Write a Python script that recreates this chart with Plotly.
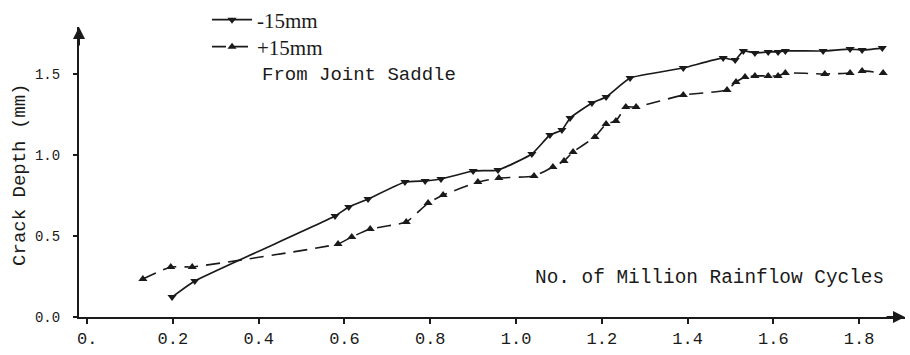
import plotly.graph_objects as go

# Crack depth growth at two positions from the joint saddle
cycles_minus = [0.198, 0.251, 0.578, 0.610, 0.655, 0.741, 0.788, 0.825, 0.900, 0.958,
                1.037, 1.079, 1.107, 1.126, 1.177, 1.210, 1.266, 1.390, 1.483, 1.511,
                1.530, 1.557, 1.588, 1.611, 1.628, 1.716, 1.779, 1.807, 1.854]
depth_minus = [0.123, 0.222, 0.623, 0.679, 0.728, 0.833, 0.840, 0.852, 0.901, 0.907,
               1.006, 1.123, 1.154, 1.228, 1.321, 1.358, 1.475, 1.537, 1.599, 1.586,
               1.642, 1.630, 1.636, 1.636, 1.642, 1.642, 1.654, 1.648, 1.660]

cycles_plus = [0.130, 0.195, 0.245, 0.585, 0.617, 0.660, 0.744, 0.795, 0.830, 0.911,
               0.960, 1.042, 1.086, 1.112, 1.133, 1.184, 1.210, 1.233, 1.256, 1.280,
               1.390, 1.492, 1.513, 1.534, 1.557, 1.588, 1.611, 1.628, 1.720, 1.779,
               1.807, 1.856]
depth_plus = [0.235, 0.309, 0.309, 0.451, 0.494, 0.543, 0.586, 0.704, 0.753, 0.833,
              0.858, 0.870, 0.926, 0.963, 1.019, 1.111, 1.191, 1.210, 1.296, 1.296,
              1.370, 1.401, 1.451, 1.481, 1.488, 1.488, 1.488, 1.506, 1.500, 1.506,
              1.519, 1.506]

x_tick_vals = [0.0, 0.2, 0.4, 0.6, 0.8, 1.0, 1.2, 1.4, 1.6, 1.8]
x_tick_text = ["0.", "0.2", "0.4", "0.6", "0.8", "1.0", "1.2", "1.4", "1.6", "1.8"]
y_tick_vals = [0.0, 0.5, 1.0, 1.5]
y_tick_text = ["0.0", "0.5", "1.0", "1.5"]

INK = "#1a1a1a"
MONO = "Liberation Mono, DejaVu Sans Mono, monospace"
SERIF = "Liberation Serif, DejaVu Serif, serif"

fig = go.Figure()
fig.add_trace(go.Scatter(
    x=cycles_minus, y=depth_minus, name="-15mm", mode="lines+markers",
    legend="legend", showlegend=True,
    line=dict(color=INK, width=1.7, shape="spline", smoothing=0.4),
    marker=dict(symbol="triangle-down", size=8, color=INK),
))
fig.add_trace(go.Scatter(
    x=cycles_plus, y=depth_plus, name="+15mm", mode="lines+markers",
    legend="legend2", showlegend=True,
    line=dict(color=INK, width=1.6, dash="14px,8px", shape="spline", smoothing=0.4),
    marker=dict(symbol="triangle-up", size=8, color=INK),
))

legend_style = dict(
    font=dict(family=SERIF, size=21, color=INK),
    bgcolor="rgba(0,0,0,0)", xanchor="left", yanchor="middle", itemwidth=40,
)

fig.update_layout(
    width=910, height=355,
    margin=dict(l=79, r=5, t=27, b=38, autoexpand=False),
    paper_bgcolor="white", plot_bgcolor="white",
    showlegend=True,
    legend=dict(x=0.155, y=1.024, **legend_style),
    legend2=dict(x=0.155, y=0.931, **legend_style),
    xaxis=dict(
        range=[-0.019, 1.907], tickvals=x_tick_vals, ticktext=x_tick_text,
        showgrid=False, zeroline=False, showline=True, linecolor=INK, linewidth=2,
        ticks="outside", ticklen=5, tickwidth=1.5, tickcolor=INK,
        tickfont=dict(family=MONO, size=17, color=INK), ticklabelstandoff=0,
    ),
    yaxis=dict(
        range=[0, 1.79], tickvals=y_tick_vals, ticktext=y_tick_text,
        showgrid=False, zeroline=False, showline=True, linecolor=INK, linewidth=2,
        ticks="outside", ticklen=4, tickwidth=1.5, tickcolor=INK,
        tickfont=dict(family=MONO, size=14, color=INK), ticklabelstandoff=10,
    ),
    annotations=[
        dict(text="Crack Depth (mm)", xref="paper", yref="paper", x=-0.0714, y=0.49,
             textangle=-90, showarrow=False, xanchor="center", yanchor="middle",
             font=dict(family=MONO, size=19, color=INK)),
        dict(text="No. of Million Rainflow Cycles", xref="paper", yref="paper",
             x=0.5496, y=0.134, showarrow=False, xanchor="left", yanchor="middle",
             font=dict(family=MONO, size=19.4, color=INK)),
        dict(text="From Joint Saddle", xref="paper", yref="paper",
             x=0.219, y=0.834, showarrow=False, xanchor="left", yanchor="middle",
             font=dict(family=MONO, size=19, color=INK)),
        # arrowheads capping both axes
        dict(text="", xref="paper", yref="paper", x=0, y=1.0, ax=0, ay=20,
             showarrow=True, arrowhead=2, arrowsize=1.2, arrowwidth=2, arrowcolor=INK),
        dict(text="", xref="paper", yref="paper", x=1.0, y=0, ax=-20, ay=0,
             showarrow=True, arrowhead=2, arrowsize=1.2, arrowwidth=2, arrowcolor=INK),
    ],
)

fig.write_html("out.html")
